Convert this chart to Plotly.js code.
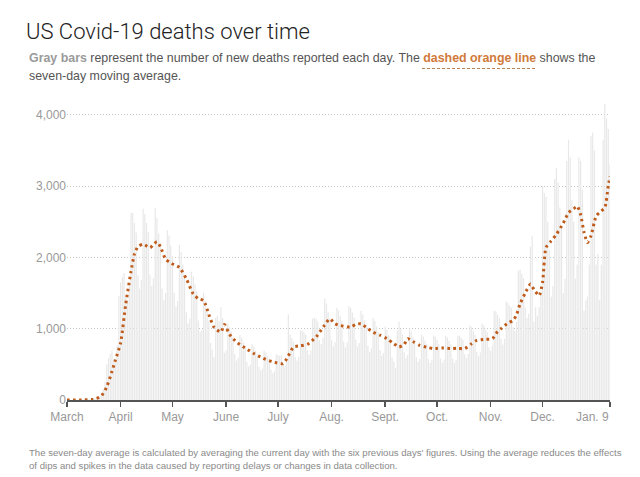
<!DOCTYPE html>
<html>
<head>
<meta charset="utf-8">
<script src="https://cdn.plot.ly/plotly-3.0.1.min.js"></script>
<style>
  html, body { margin: 0; padding: 0; background: #fff; }
  #chart { width: 640px; height: 477px; }
</style>
</head>
<body>
<div id="chart"></div>
<script>
// ---- DATA ----
// daily new deaths, one value per day starting 2020-03-01
const startDate = '2020-03-01';
const dailyDeaths = [
  0,1,1,2,3,2,2,
  4,3,5,7,8,10,8,
  12,18,23,28,40,52,95,
  150,257,500,585,644,690,576,
  576,764,1462,1647,1725,1782,1440,
  1382,1595,2625,2623,2484,2349,1748,
  1562,1681,2681,2606,2484,2354,1760,
  1598,1708,2688,2550,2335,2192,1564,
  1397,1498,2381,2306,2162,2019,1504,
  1310,1388,2175,2074,1898,1728,1232,
  1071,1139,1800,1732,1622,1523,1115,
  958,983,1500,1391,1242,1104,800,
  706,600,1150,1180,1100,1300,1150,
  662,694,1075,1019,960,878,640,
  554,585,912,872,805,740,532,
  469,499,785,750,693,637,464,
  414,441,694,669,621,583,427,
  376,404,643,627,621,626,496,
  475,546,1200,915,868,816,604,
  554,605,975,976,949,918,696,
  634,694,1138,1159,1139,1102,840,
  785,874,1423,1354,1242,1145,840,
  752,811,1294,1257,1179,1104,818,
  736,807,1313,1293,1225,1155,848,
  752,800,1250,1202,1116,1037,762,
  677,725,1150,1110,1029,950,696,
  619,659,1031,982,909,832,600,
  535,450,975,1100,989,918,668,
  590,632,1000,964,881,815,598,
  534,576,919,891,835,780,576,
  518,563,906,888,840,786,581,
  521,563,900,878,830,782,580,
  521,563,900,903,874,842,640,
  587,644,1045,1025,969,914,678,
  612,665,1069,1047,989,950,736,
  691,764,1250,1244,1196,1145,860,
  778,854,1381,1360,1323,1296,1024,
  970,1092,1813,1830,1771,1706,1301,
  1152,1209,2150,2300,1100,1300,1180,
  1300,1500,3000,2900,2850,2500,2100,
  1450,1600,3100,3250,3050,2700,2400,
  1500,1700,3350,3650,3400,2800,2500,
  1700,1900,3400,3350,2950,1250,1400,
  1450,1900,3700,3750,3500,1900,2050,
  1400,1900,3650,4150,3950,3800,3300
];

// seven-day moving average
const avgDates = [
  '2020-03-01','2020-03-11','2020-03-16','2020-03-18','2020-03-21','2020-03-24','2020-03-27','2020-03-29',
  '2020-04-01','2020-04-04','2020-04-07','2020-04-09','2020-04-11','2020-04-14','2020-04-18','2020-04-20',
  '2020-04-22','2020-04-24','2020-04-27','2020-04-30','2020-05-05','2020-05-09','2020-05-13','2020-05-16',
  '2020-05-19','2020-05-22','2020-05-25','2020-05-29','2020-05-31','2020-06-03','2020-06-07','2020-06-12',
  '2020-06-17','2020-06-22','2020-06-28','2020-07-04','2020-07-07','2020-07-10','2020-07-14','2020-07-18',
  '2020-07-23','2020-07-28','2020-07-31','2020-08-03','2020-08-06','2020-08-12','2020-08-15','2020-08-18',
  '2020-08-22','2020-08-25','2020-08-29','2020-09-02','2020-09-06','2020-09-09','2020-09-12','2020-09-14',
  '2020-09-17','2020-09-21','2020-09-25','2020-09-29','2020-10-04','2020-10-09','2020-10-13','2020-10-17',
  '2020-10-21','2020-10-24','2020-10-29','2020-11-02','2020-11-05','2020-11-07','2020-11-11','2020-11-14',
  '2020-11-16','2020-11-18','2020-11-21','2020-11-24','2020-11-26','2020-11-29','2020-12-01','2020-12-03',
  '2020-12-06','2020-12-09','2020-12-13','2020-12-16','2020-12-19','2020-12-21','2020-12-23','2020-12-25',
  '2020-12-27','2020-12-29','2021-01-01','2021-01-04','2021-01-06','2021-01-08','2021-01-09'
];
const avgValues = [
  0,2,8,20,60,185,400,560,
  800,1350,1800,2045,2150,2185,2136,2180,
  2220,2150,1975,1920,1858,1700,1487,1420,
  1394,1200,1022,952,1059,920,813,730,
  651,590,534,511,620,743,760,780,
  882,1050,1138,1070,1045,1022,1060,1069,
  1000,952,910,860,790,743,780,860,
  820,766,740,720,730,720,725,720,
  790,836,850,860,960,1000,1080,1115,
  1200,1347,1500,1626,1550,1463,1649,2136,
  2230,2323,2480,2625,2680,2718,2600,2350,
  2207,2300,2578,2650,2694,3000,3136
];

// axis ticks
const monthTickVals = ['2020-03-01','2020-04-01','2020-05-01','2020-06-01','2020-07-01','2020-08-01',
  '2020-09-01','2020-10-01','2020-11-01','2020-12-01','2021-01-09'];
const monthTickText = ['March','April','May','June','July','Aug.','Sept.','Oct.','Nov.','Dec.',''];
const endLabel = 'Jan. 9';
const yTickVals = [0,1000,2000,3000,4000];

// ---- TEXT ----
const titleText = 'US Covid-19 deaths over time';
const subLine1 = '<b><span style="color:#9a9a9a">Gray bars</span></b> represent the number of new deaths reported each day. The <b><span style="color:#d07a3a">dashed orange line</span></b> shows the';
const subLine2 = 'seven-day moving average.';
const foot1 = "The seven-day average is calculated by averaging the current day with the six previous days' figures. Using the average reduces the effects";
const foot2 = 'of dips and spikes in the data caused by reporting delays or changes in data collection.';

// build dates for the daily bars
const barDates = [];
(function () {
  const d0 = new Date(startDate + 'T00:00:00Z');
  for (let i = 0; i < dailyDeaths.length; i++) {
    const d = new Date(d0.getTime() + i * 86400000);
    barDates.push(d.toISOString().slice(0, 10));
  }
})();

// pixel helpers for paper coordinates (plot area: x 67..610, y 99..400)
const L = 67, R = 30, T = 99, B = 77, W = 640, H = 477;
const pw = W - L - R, ph = H - T - B;
const px = x => (x - L) / pw;
const py = y => (H - B - y) / ph;

const FONT = 'Liberation Sans, Arial, Helvetica, sans-serif';

const traces = [
  {
    type: 'bar',
    x: barDates,
    y: dailyDeaths,
    marker: { color: '#e8e8e8', line: { width: 0 } },
    hoverinfo: 'skip'
  },
  {
    type: 'scatter',
    mode: 'lines',
    x: avgDates,
    y: avgValues,
    line: { color: '#bf5c1c', width: 3, dash: '2.5px,3.5px', shape: 'spline', smoothing: 0.6 },
    hoverinfo: 'skip'
  }
];

const layout = {
  width: W, height: H,
  margin: { l: L, r: R, t: T, b: B, pad: 0 },
  paper_bgcolor: '#ffffff',
  plot_bgcolor: '#ffffff',
  showlegend: false,
  bargap: 0.3,
  font: { family: FONT, color: '#999999', size: 12 },
  title: {
    text: titleText,
    font: { family: 'Roboto, Liberation Sans, sans-serif', size: 22, weight: 300, color: '#222222' },
    xref: 'container', x: 26 / W, xanchor: 'left',
    yref: 'container', y: 1 - 31 / H, yanchor: 'middle'
  },
  xaxis: {
    type: 'date',
    range: ['2020-03-01', '2021-01-09'],
    tickmode: 'array',
    tickvals: monthTickVals,
    ticktext: monthTickText,
    ticks: 'outside',
    ticklen: 5,
    tickwidth: 1.5,
    tickcolor: '#555555',
    showline: true,
    linecolor: '#555555',
    linewidth: 1.5,
    showgrid: false,
    zeroline: false,
    tickfont: { family: FONT, size: 12, color: '#999999' },
    fixedrange: true
  },
  yaxis: {
    range: [0, 4220],
    tickmode: 'array',
    tickvals: yTickVals,
    tickformat: ',d',
    showgrid: true,
    gridcolor: '#c4c4c4',
    gridwidth: 1,
    griddash: '1px,2px',
    zeroline: false,
    showline: false,
    ticks: '',
    tickfont: { family: FONT, size: 12, color: '#999999' },
    fixedrange: true
  },
  annotations: [
    { xref: 'paper', yref: 'paper', x: px(26.7), y: py(58), xanchor: 'left', yanchor: 'middle',
      text: subLine1, showarrow: false, align: 'left',
      font: { family: FONT, size: 12.4, color: '#555555' } },
    { xref: 'paper', yref: 'paper', x: px(26.7), y: py(76), xanchor: 'left', yanchor: 'middle',
      text: subLine2, showarrow: false, align: 'left',
      font: { family: FONT, size: 12.4, color: '#555555' } },
    { xref: 'paper', yref: 'paper', x: px(26.7), y: py(452.7), xanchor: 'left', yanchor: 'middle',
      text: foot1, showarrow: false, align: 'left',
      font: { family: FONT, size: 9.6, color: '#8a8a8a' } },
    { xref: 'paper', yref: 'paper', x: px(26.7), y: py(465), xanchor: 'left', yanchor: 'middle',
      text: foot2, showarrow: false, align: 'left',
      font: { family: FONT, size: 9.6, color: '#8a8a8a' } },
    { xref: 'x', yref: 'paper', x: '2021-01-09', y: py(416.7), xanchor: 'right', yanchor: 'middle',
      xshift: 1, text: endLabel, showarrow: false,
      font: { family: FONT, size: 12, color: '#999999' } }
  ],
  shapes: [
    { type: 'line', xref: 'paper', yref: 'paper', x0: px(422), x1: px(535), y0: py(68.5), y1: py(68.5),
      line: { color: '#b8824f', width: 1, dash: '3px,2px' } }
  ]
};

Plotly.newPlot('chart', traces, layout, { displayModeBar: false, staticPlot: true });
</script>
</body>
</html>
